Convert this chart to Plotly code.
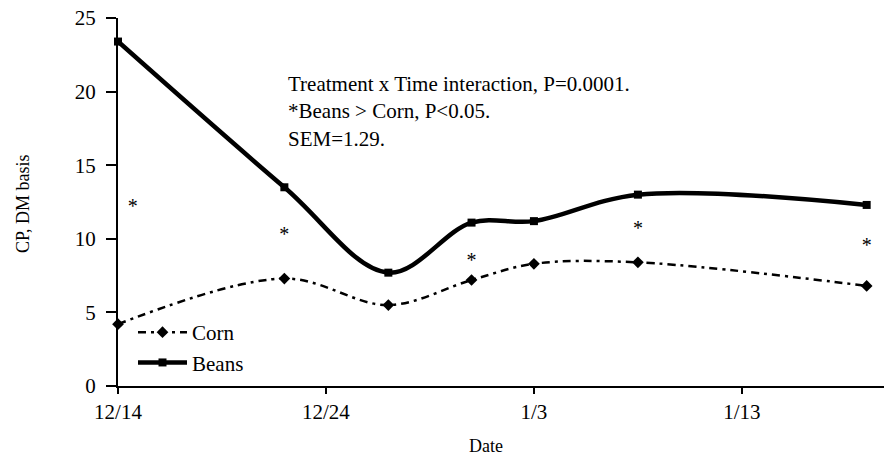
import plotly.graph_objects as go

# Sampling dates and crude protein (% of DM) by treatment
dates = ["1998-12-14", "1998-12-22", "1998-12-27", "1998-12-31",
         "1999-01-03", "1999-01-08", "1999-01-19"]
corn = [4.2, 7.3, 5.5, 7.2, 8.3, 8.4, 6.8]
beans = [23.4, 13.5, 7.7, 11.1, 11.2, 13.0, 12.3]

# Significance markers (Beans > Corn, P<0.05)
star_dates = ["1998-12-14 17:00", "1998-12-22", "1998-12-31",
              "1999-01-08", "1999-01-19"]
star_vals = [12.1, 10.2, 8.4, 10.6, 9.45]

tick_dates = ["1998-12-14", "1998-12-24", "1999-01-03", "1999-01-13"]
tick_text = ["12/14", "12/24", "1/3", "1/13"]
y_ticks = [0, 5, 10, 15, 20, 25]

FONT = "Liberation Serif"
W, H = 885, 457
ML, MR, MT, MB = 118, 1, 18, 71
PW, PH = W - ML - MR, H - MT - MB


def px_x(p):
    return (p - ML) / PW


def px_y(p):
    return (MT + PH - p) / PH


fig = go.Figure()

fig.add_trace(go.Scatter(
    x=dates, y=corn, name="Corn", mode="lines+markers",
    line=dict(color="black", width=2.5, shape="spline", smoothing=1,
              dash="8px,5px,3px,5px"),
    marker=dict(symbol="diamond", size=9, color="black"),
    cliponaxis=False,
))
fig.add_trace(go.Scatter(
    x=dates, y=beans, name="Beans", mode="lines+markers",
    line=dict(color="black", width=4.5, shape="spline", smoothing=1),
    marker=dict(symbol="square", size=8, color="black"),
    cliponaxis=False,
))
fig.add_trace(go.Scatter(
    x=star_dates, y=star_vals, mode="text", text=["*"] * len(star_vals),
    textposition="middle center",
    textfont=dict(size=20, color="black", family=FONT),
    showlegend=False, cliponaxis=False, hoverinfo="skip",
))

fig.add_annotation(
    xref="paper", yref="paper", x=px_x(286), y=px_y(70),
    xanchor="left", yanchor="top", align="left", showarrow=False,
    text="Treatment x Time interaction, P=0.0001.<br>"
         "*Beans &gt; Corn, P&lt;0.05.<br>SEM=1.29.",
    font=dict(size=21, color="black", family=FONT),
)
fig.add_annotation(
    xref="paper", yref="paper", x=px_x(486), y=px_y(446),
    xanchor="center", yanchor="middle", showarrow=False, text="Date",
    font=dict(size=18, color="black", family=FONT),
)
fig.add_annotation(
    xref="paper", yref="paper", x=px_x(23), y=px_y(204),
    xanchor="center", yanchor="middle", showarrow=False, textangle=-90,
    text="CP, DM basis", font=dict(size=18, color="black", family=FONT),
)

fig.update_layout(
    width=W, height=H,
    margin=dict(l=ML, r=MR, t=MT, b=MB, autoexpand=False),
    paper_bgcolor="white", plot_bgcolor="white",
    font=dict(family=FONT, size=21, color="black"),
    showlegend=True,
    legend=dict(x=px_x(133), y=px_y(312), xanchor="left", yanchor="top",
                bgcolor="rgba(0,0,0,0)",
                font=dict(size=21, family=FONT, color="black"),
                tracegroupgap=0, itemwidth=49),
)
fig.update_xaxes(
    type="date", range=["1998-12-14", "1999-01-19 20:00"],
    tickvals=tick_dates, ticktext=tick_text,
    tickfont=dict(family=FONT, size=21, color="black"),
    showgrid=False, zeroline=False, showline=True, linecolor="black",
    linewidth=2, ticks="outside", ticklen=6, tickwidth=2, tickcolor="black",
)
fig.update_yaxes(
    range=[0, 25], tickvals=y_ticks,
    tickfont=dict(family=FONT, size=21, color="black"),
    showgrid=False, zeroline=False, showline=True, linecolor="black",
    linewidth=2, ticks="outside", ticklen=10, tickwidth=2, tickcolor="black",
    ticklabelstandoff=6,
)

fig.write_html("out.html")
